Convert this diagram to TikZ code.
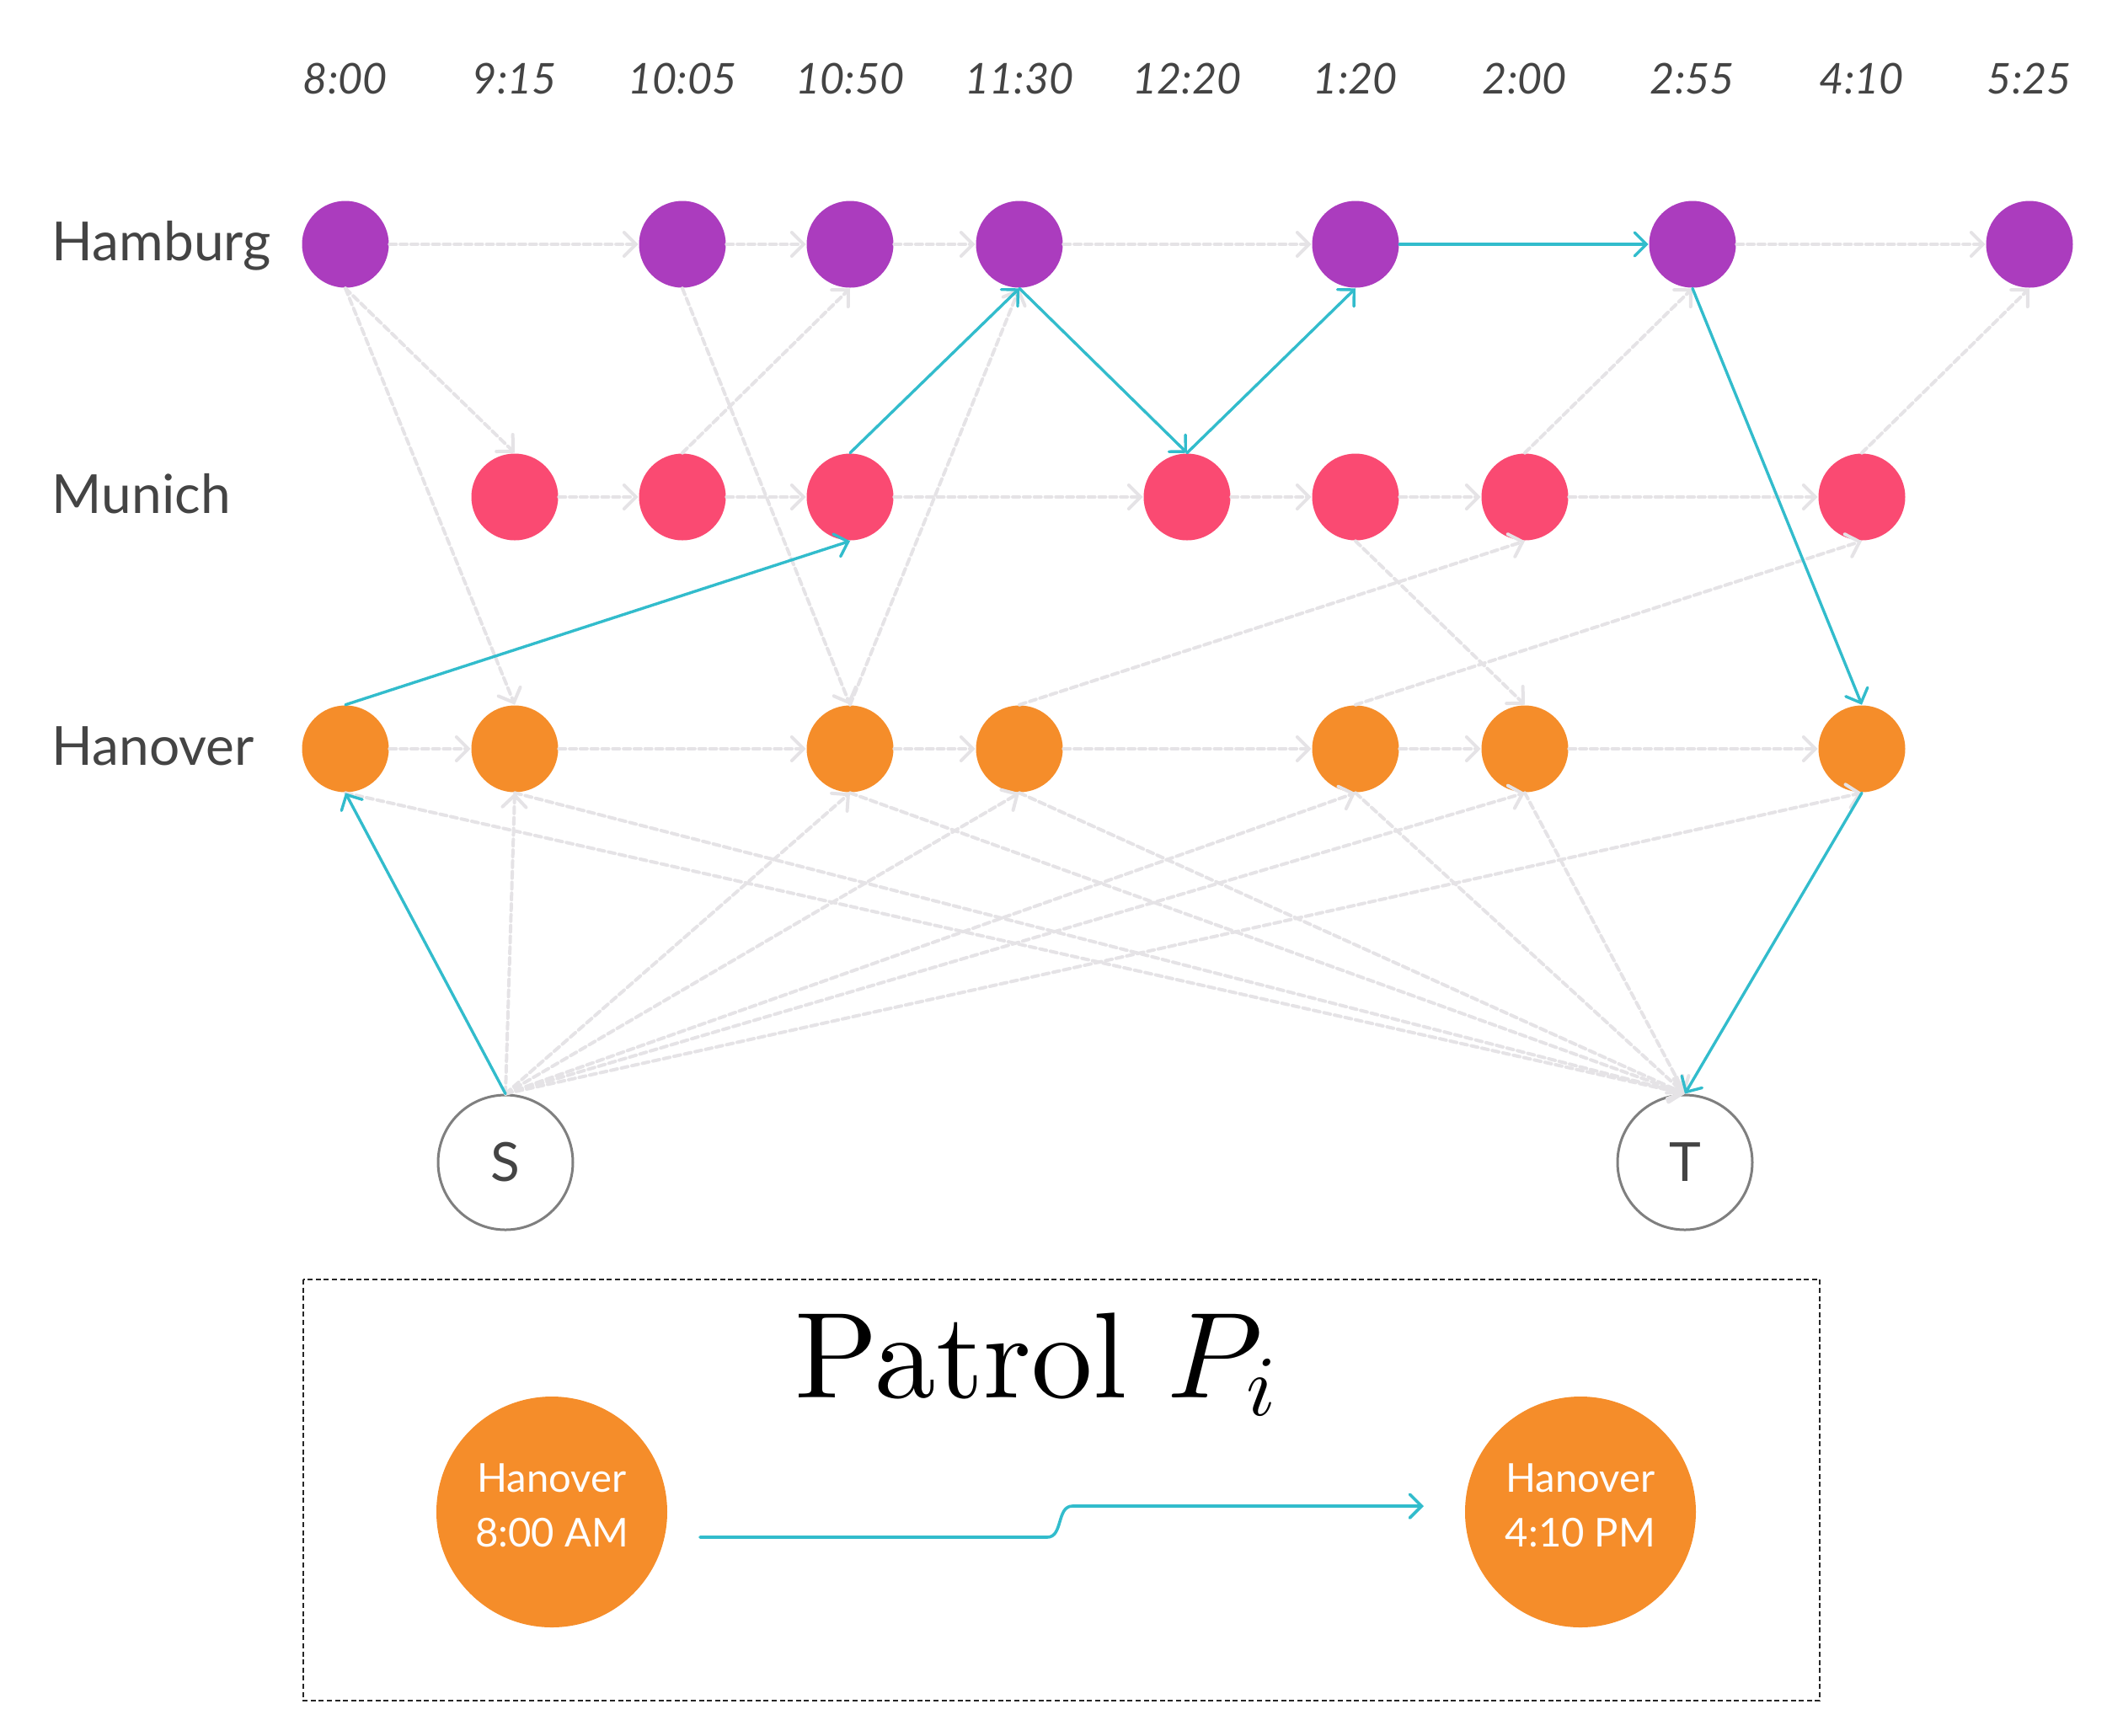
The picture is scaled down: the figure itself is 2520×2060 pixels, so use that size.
\RequirePackage{fix-cm}
\documentclass[tikz,border=0pt]{standalone}
\usepackage{fontspec}
\setmainfont{Lato}
\newfontfamily\lmfont{lmroman10-regular.otf}
\DeclareFontShape{OML}{cmm}{m}{it}{<->cmmi10}{}
\usetikzlibrary{arrows.meta}
\definecolor{hamc}{HTML}{AB3CBE}
\definecolor{munc}{HTML}{FA4A72}
\definecolor{hanc}{HTML}{F58D2A}
\definecolor{cyanc}{HTML}{32BCCC}
\definecolor{greyc}{RGB}{229,227,230}
\definecolor{txtc}{HTML}{444444}
\definecolor{ringc}{HTML}{7F7F7F}
\begin{document}
\begin{tikzpicture}[x=0.25pt,y=-0.25pt,
  dot/.style={circle, minimum size=25.75pt, inner sep=0pt},
  ham/.style={dot, fill=hamc},
  mun/.style={dot, fill=munc},
  han/.style={dot, fill=hanc},
  term/.style={circle, draw=ringc, line width=0.75pt, minimum size=40pt, inner sep=0pt, text=txtc, font=\fontsize{16}{19}\selectfont},
  big/.style={circle, fill=hanc, minimum size=68.5pt, inner sep=0pt, text=white, align=center, font=\fontsize{11.8}{16.25}\selectfont},
  rowlab/.style={anchor=base west, text=txtc, inner sep=0pt, font=\fontsize{16}{19}\selectfont},
  timelab/.style={anchor=base, text=txtc, inner sep=0pt, font=\fontsize{12.6}{15}\selectfont\itshape},
  opt/.style={draw=greyc, line width=1pt, line cap=round, dash pattern=on 2pt off 1.2pt, -{Straight Barb[length=3.5pt,width=7pt,line cap=round]}},
  sel/.style={draw=cyanc, line width=0.85pt, line cap=round, -{Straight Barb[length=3.5pt,width=7pt,line cap=round]}}
]
\path[use as bounding box] (0,0) rectangle (2520,2060);

% time labels
\node[timelab] (t0) at (410,111) {8:00};
\node[timelab] (t1) at (611,111) {9:15};
\node[timelab] (t2) at (810,111) {10:05};
\node[timelab] (t3) at (1009,111) {10:50};
\node[timelab] (t4) at (1210,111) {11:30};
\node[timelab] (t5) at (1409,111) {12:20};
\node[timelab] (t6) at (1609,111) {1:20};
\node[timelab] (t7) at (1810,111) {2:00};
\node[timelab] (t8) at (2009,111) {2:55};
\node[timelab] (t9) at (2210,111) {4:10};
\node[timelab] (t10) at (2409,111) {5:25};

% row labels
\node[rowlab] (lham) at (61,309) {Hamburg};
\node[rowlab] (lmun) at (61,609) {Munich};
\node[rowlab] (lhan) at (61,908) {Hanover};

% Hamburg
\node[ham] (hb0) at (410,290) {};
\node[ham] (hb2) at (810,290) {};
\node[ham] (hb3) at (1009,290) {};
\node[ham] (hb4) at (1210,290) {};
\node[ham] (hb6) at (1609,290) {};
\node[ham] (hb8) at (2009,290) {};
\node[ham] (hb10) at (2409,290) {};
% Munich
\node[mun] (mu1) at (611,590) {};
\node[mun] (mu2) at (810,590) {};
\node[mun] (mu3) at (1009,590) {};
\node[mun] (mu5) at (1409,590) {};
\node[mun] (mu6) at (1609,590) {};
\node[mun] (mu7) at (1810,590) {};
\node[mun] (mu9) at (2210,590) {};
% Hanover
\node[han] (hn0) at (410,889) {};
\node[han] (hn1) at (611,889) {};
\node[han] (hn3) at (1009,889) {};
\node[han] (hn4) at (1210,889) {};
\node[han] (hn6) at (1609,889) {};
\node[han] (hn7) at (1810,889) {};
\node[han] (hn9) at (2210,889) {};

% source and sink
\node[term] (S) at (600,1380) {S};
\node[term] (T) at (2000,1380) {T};

% horizontal waiting edges
\draw[opt] (hb0.east) -- (hb2.west);
\draw[opt] (hb2.east) -- (hb3.west);
\draw[opt] (hb3.east) -- (hb4.west);
\draw[opt] (hb4.east) -- (hb6.west);
\draw[opt] (hb8.east) -- (hb10.west);
\draw[opt] (mu1.east) -- (mu2.west);
\draw[opt] (mu2.east) -- (mu3.west);
\draw[opt] (mu3.east) -- (mu5.west);
\draw[opt] (mu5.east) -- (mu6.west);
\draw[opt] (mu6.east) -- (mu7.west);
\draw[opt] (mu7.east) -- (mu9.west);
\draw[opt] (hn0.east) -- (hn1.west);
\draw[opt] (hn1.east) -- (hn3.west);
\draw[opt] (hn3.east) -- (hn4.west);
\draw[opt] (hn4.east) -- (hn6.west);
\draw[opt] (hn6.east) -- (hn7.west);
\draw[opt] (hn7.east) -- (hn9.west);

% travel edges
\draw[opt] (hb0.south) -- (mu1.north);
\draw[opt] (hb0.south) -- (hn1.north);
\draw[opt] (mu2.north) -- (hb3.south);
\draw[opt] (hb2.south) -- (hn3.north);
\draw[opt] (hn3.north) -- (hb4.south);
\draw[opt] (mu7.north) -- (hb8.south);
\draw[opt] (mu9.north) -- (hb10.south);
\draw[opt] (hn4.north) -- (mu7.south);
\draw[opt] (hn6.north) -- (mu9.south);
\draw[opt] (mu6.south) -- (hn7.north);

% source edges
\foreach \n in {hn1,hn3,hn4,hn6,hn7,hn9}
  \draw[opt] (S.north) -- (\n.south);
% sink edges
\foreach \n in {hn0,hn1,hn3,hn4,hn6,hn7}
  \draw[opt] (\n.south) -- (T.north);

% selected patrol
\draw[sel] (S.north) -- (hn0.south);
\draw[sel] (hn0.north) -- (mu3.south);
\draw[sel] (mu3.north) -- (hb4.south);
\draw[sel] (hb4.south) -- (mu5.north);
\draw[sel] (mu5.north) -- (hb6.south);
\draw[sel] (hb6.east) -- (hb8.west);
\draw[sel] (hb8.south) -- (hn9.north);
\draw[sel] (hn9.south) -- (T.north);

% legend box
\draw[draw=black!85, line width=0.5pt, dash pattern=on 1.5pt off 0.9pt] (360,1519) rectangle (2160,2019);
\node[anchor=base, inner sep=0pt, font=\fontsize{36.3}{42}\selectfont\lmfont] (title) at (1230,1659) {Patrol $P_i$};
\node[big] (pa) at (655,1795) {Hanover\\8:00 AM\rule[-4pt]{0pt}{0pt}};
\node[big] (pb) at (1876,1795) {Hanover\\4:10 PM\rule[-4pt]{0pt}{0pt}};
\coordinate (a0) at (831,1825);
\coordinate (a1) at (1690,1788);
\draw[draw=cyanc, line width=0.9pt, line cap=round, -{Straight Barb[length=3.5pt,width=7pt,line cap=round]}]
  (a0) -- (1243,1825) .. controls (1262,1825) and (1254,1788) .. (1273,1788) -- (a1);
\end{tikzpicture}
\end{document}
